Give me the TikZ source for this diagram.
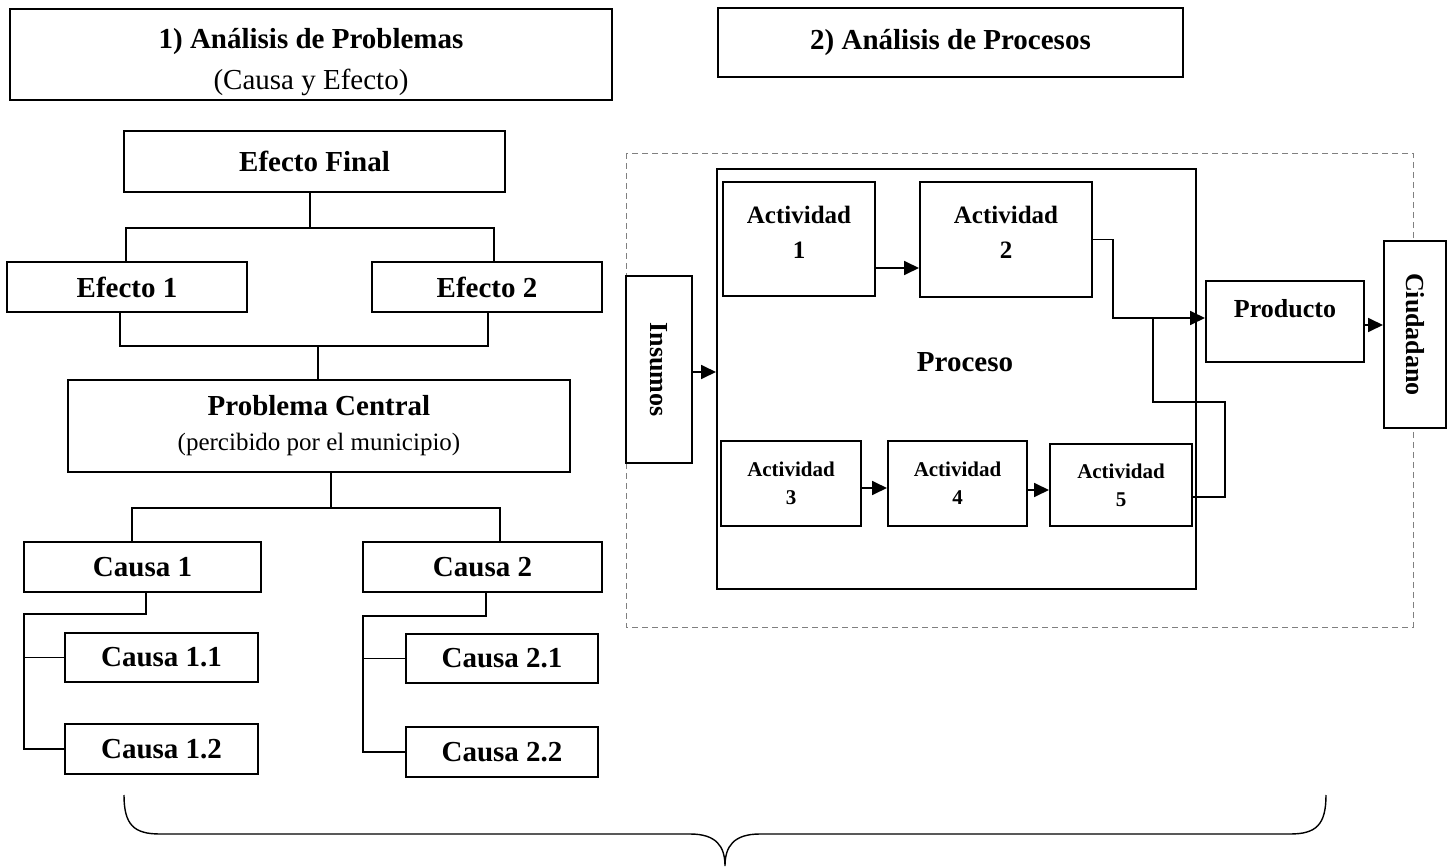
\documentclass[tikz,border=0pt]{standalone}
\usepackage{fontspec}
\setmainfont{Liberation Serif}
\usepackage{graphicx}
\usetikzlibrary{arrows.meta}

\begin{document}
\begin{tikzpicture}[x=0.5pt,y=-0.5pt,
  box/.style={draw,fill=white,line width=1pt,inner sep=2pt,align=center,font=\fontsize{14.5}{17.5}\selectfont\bfseries},
  actbig/.style={box,font=\fontsize{12.5}{17.5}\selectfont\bfseries},
  actsmall/.style={box,font=\fontsize{10.5}{14}\selectfont\bfseries},
  sidebox/.style={box,font=\fontsize{13}{16}\selectfont\bfseries},
  conn/.style={line width=0.9pt},
  arr/.style={line width=0.9pt,-{Triangle[length=7.5pt,width=7pt]}}]
\useasboundingbox (0,0) rectangle (1448,867);

\node[box,minimum width=301pt,minimum height=45.5pt,font=\fontsize{14.5}{20.5}\selectfont\bfseries] (tit1) at (311,54.5) {\rule{0pt}{18pt}1) Análisis de Problemas\\{\mdseries (Causa y Efecto)}};
\node[box,minimum width=232.5pt,minimum height=34.5pt] (tit2) at (950.5,42.5) {2) Análisis de Procesos};

\node[box,minimum width=190.5pt,minimum height=30.5pt] (efin) at (314.5,161.5) {Efecto Final};
\node[box,minimum width=120pt,minimum height=25pt] (ef1) at (127,287) {Efecto 1};
\node[box,minimum width=115pt,minimum height=25pt] (ef2) at (487,287) {Efecto 2};
\node[box,minimum width=251pt,minimum height=46pt] (prob) at (319,426) {Problema Central\\{\mdseries\fontsize{12.5}{17.5}\selectfont (percibido por el municipio)}};
\node[box,minimum width=118.5pt,minimum height=25pt] (c1) at (142.5,567) {Causa 1};
\node[box,minimum width=119.5pt,minimum height=25pt] (c2) at (482.5,567) {Causa 2};
\node[box,minimum width=96.5pt,minimum height=24.5pt] (c11) at (161.5,657.5) {Causa 1.1};
\node[box,minimum width=96.5pt,minimum height=25pt] (c12) at (161.5,749) {Causa 1.2};
\node[box,minimum width=96pt,minimum height=24.5pt] (c21) at (502,658.5) {Causa 2.1};
\node[box,minimum width=96pt,minimum height=25pt] (c22) at (502,752) {Causa 2.2};

\draw[conn] (efin.south -| 310,0) -- (310,228);
\draw[conn] (ef1.north -| 126,0) -- (126,228) -- (494,228) -- (ef2.north -| 494,0);
\draw[conn] (ef1.south -| 120,0) -- (120,346) -- (488,346) -- (ef2.south -| 488,0);
\draw[conn] (318,346) -- (prob.north -| 318,0);
\draw[conn] (prob.south -| 331,0) -- (331,508);
\draw[conn] (c1.north -| 132,0) -- (132,508) -- (500,508) -- (c2.north -| 500,0);
\draw[conn] (c1.south -| 146,0) -- (146,614) -- (24,614) |- (c12.west);
\draw[conn] (c11.west) -- (c11.west -| 24,0);
\draw[conn] (c2.south -| 486,0) -- (486,616) -- (363,616) |- (c22.west);
\draw[conn] (c21.west) -- (c21.west -| 363,0);

\draw[gray,line width=0.5pt,dash pattern=on 3pt off 2pt] (626,153) rectangle (1413,627);

\node[box,minimum width=239.5pt,minimum height=210pt] (proc) at (956.5,379) {};
\node[font=\fontsize{14.5}{17.5}\selectfont\bfseries] (proclbl) at (965,362) {Proceso};
\node[actbig,minimum width=76pt,minimum height=57pt,text depth=7pt] (a1) at (799,239) {Actividad\\1};
\node[actbig,minimum width=86pt,minimum height=57.5pt,text depth=7pt] (a2) at (1006,239.5) {Actividad\\2};
\node[actsmall,minimum width=70pt,minimum height=42.5pt] (a3) at (791,483.5) {Actividad\\3};
\node[actsmall,minimum width=69.5pt,minimum height=42.5pt] (a4) at (957.5,483.5) {Actividad\\4};
\node[actsmall,minimum width=71pt,minimum height=41pt] (a5) at (1121,485) {Actividad\\5};
\node[sidebox,minimum width=33pt,minimum height=93.5pt] (ins) at (659,369.5) {\rotatebox{-90}{Insumos}};
\node[sidebox,minimum width=79pt,minimum height=40.5pt,text depth=13pt] (prod) at (1285,321.5) {Producto};
\node[sidebox,minimum width=31pt,minimum height=93.5pt] (ciud) at (1415,334.5) {\rotatebox{-90}{Ciudadano}};

\draw[arr] (ins.east |- 0,372) -- (proc.west |- 0,372);
\draw[arr] (a1.east |- 0,268) -- (a2.west |- 0,268);
\draw[arr] (a3.east |- 0,488) -- (a4.west |- 0,488);
\draw[arr] (a4.east |- 0,490) -- (a5.west |- 0,490);
\draw[arr] (a2.east) -| (1113,318) -- (prod.west |- 0,318);
\draw[conn] (a5.east |- 0,497) -- (1225,497) -- (1225,402) -- (1153,402) -- (1153,318);
\draw[arr] (prod.east |- 0,325) -- (ciud.west |- 0,325);

\draw[line width=0.7pt] (124,795) .. controls (124,825) and (134,834) .. (160,834) -- (690,834) .. controls (716,834) and (725,846) .. (725,866) .. controls (725,846) and (734,834) .. (760,834) -- (1290,834) .. controls (1316,834) and (1326,825) .. (1326,795);

\end{tikzpicture}
\end{document}
